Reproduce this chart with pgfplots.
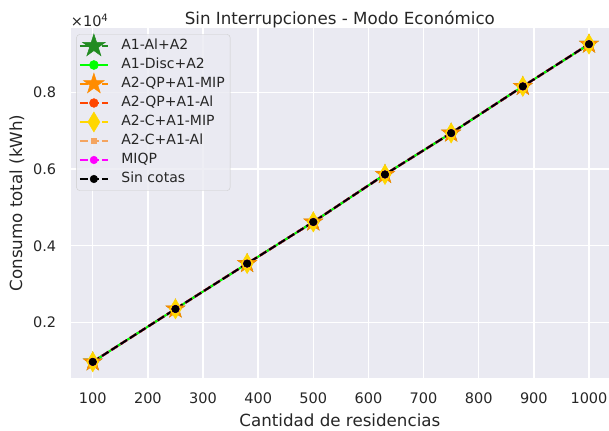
\documentclass[border=0pt]{standalone}
\usepackage{fontspec}
\setmainfont{DejaVu Sans}
\usepackage{pgfplots}
\pgfplotsset{compat=1.18}
\usetikzlibrary{calc}
\definecolor{bgc}{HTML}{EAEAF2}
\definecolor{txt}{HTML}{262626}
\definecolor{cforest}{HTML}{228B22}
\definecolor{clime}{HTML}{00FF00}
\definecolor{cdorange}{HTML}{FF8C00}
\definecolor{cored}{HTML}{FF4500}
\definecolor{cgold}{HTML}{FFD700}
\definecolor{csandy}{HTML}{F4A460}
\definecolor{cmag}{HTML}{FF00FF}

\pgfdeclareplotmark{fstar}{%
 \pgfpathmoveto{\pgfpointpolar{90}{\pgfplotmarksize}}%
 \pgfpathlineto{\pgfpointpolar{126}{0.381966\pgfplotmarksize}}%
 \pgfpathlineto{\pgfpointpolar{162}{\pgfplotmarksize}}%
 \pgfpathlineto{\pgfpointpolar{198}{0.381966\pgfplotmarksize}}%
 \pgfpathlineto{\pgfpointpolar{234}{\pgfplotmarksize}}%
 \pgfpathlineto{\pgfpointpolar{270}{0.381966\pgfplotmarksize}}%
 \pgfpathlineto{\pgfpointpolar{306}{\pgfplotmarksize}}%
 \pgfpathlineto{\pgfpointpolar{342}{0.381966\pgfplotmarksize}}%
 \pgfpathlineto{\pgfpointpolar{18}{\pgfplotmarksize}}%
 \pgfpathlineto{\pgfpointpolar{54}{0.381966\pgfplotmarksize}}%
 \pgfpathclose
 \pgfusepathqfillstroke
}
\pgfdeclareplotmark{tdiamond}{%
 \pgfpathmoveto{\pgfqpoint{0pt}{\pgfplotmarksize}}%
 \pgfpathlineto{\pgfqpoint{0.6\pgfplotmarksize}{0pt}}%
 \pgfpathlineto{\pgfqpoint{0pt}{-\pgfplotmarksize}}%
 \pgfpathlineto{\pgfqpoint{-0.6\pgfplotmarksize}{0pt}}%
 \pgfpathclose
 \pgfusepathqfillstroke
}

\pgfplotstableread{
x y
100 970
250 2350
380 3535
500 4620
630 5860
750 6940
880 8158
1000 9260
}\datatab

\tikzset{
 mpldash/.style={dash pattern=on 7.7bp off 3.3bp},
 mpldashdot/.style={dash pattern=on 13.3bp off 3.3bp on 2.1bp off 3.3bp},
}

\begin{document}
\begin{tikzpicture}
\begin{axis}[
 scale only axis, width=538.3bp, height=349.4bp,
 xmin=60, xmax=1036.3, ymin=557, ymax=9674,
 axis background/.style={fill=bgc},
 axis line style={draw=none},
 grid=major, major grid style={white, line width=1.4bp},
 major tick length=0pt,
 xtick={100,200,...,1000},
 ytick={2000,4000,6000,8000}, yticklabels={0.2,0.4,0.6,0.8},
 scaled ticks=false,
 /pgf/number format/assume math mode=true,
 /pgf/number format/1000 sep={},
 ticklabel style={font=\fontsize{14.5bp}{17bp}\selectfont, text=txt},
 xticklabel shift=12bp,
 yticklabel shift=11bp,
 xlabel={Cantidad de residencias},
 ylabel={Consumo total (kWh)},
 title={Sin Interrupciones - Modo Económico},
 every axis x label/.style={at={(axis description cs:0.5,-0.141)}, anchor=base, font=\fontsize{16.7bp}{20bp}\selectfont, text=txt},
 every axis y label/.style={at={(axis description cs:-0.0901,0.5)}, rotate=90, anchor=base, font=\fontsize{16.7bp}{20bp}\selectfont, text=txt},
 every axis title/.style={at={(axis description cs:0.5,1.0123)}, anchor=base, font=\fontsize{16.7bp}{20bp}\selectfont, text=txt},
 legend image code/.code={%
   \begin{pgfinterruptboundingbox}
   \draw[sharp corners, fill opacity=1, draw opacity=1, mark repeat=2,mark phase=2,#1] plot coordinates {(0bp,0bp) (14bp,0bp) (28bp,0bp)};
   \end{pgfinterruptboundingbox}
   \path[draw=none, fill=none, sharp corners] (0bp,-3bp) rectangle (28bp,3bp);},
 legend cell align=left,
 legend style={at={(axis description cs:0,1)}, anchor=north west, xshift=5.7bp, yshift=-6bp,
   fill=bgc, fill opacity=0.8, text opacity=1, draw=black!20, rounded corners=3bp,
   font=\fontsize{14bp}{17bp}\selectfont, text=txt,
   nodes={inner sep=2bp, text height=10.4bp, text depth=2.6bp, sharp corners}, row sep=2bp,
   /tikz/every odd column/.append style={column sep=11.5bp},
   inner xsep=3.3bp, inner ysep=3bp},
 every axis plot/.append style={line width=2.1bp},
]
\addplot[cforest, mpldashdot, mark=fstar, mark size=9.6bp, mark options={solid, fill=cforest, draw=cforest, line width=0.5bp}, legend image post style={mark size=12bp}] table[x=x,y=y] {\datatab};
\addlegendentry{A1-Al+A2}
\addplot[clime, solid, mark=*, mark size=4.5bp, mark options={solid, fill=clime, draw=clime, line width=0.5bp}] table[x=x,y=y] {\datatab};
\addlegendentry{A1-Disc+A2}
\addplot[cdorange, mpldash, mark=fstar, mark size=10bp, mark options={solid, fill=cdorange, draw=cdorange, line width=0.5bp}, legend image post style={mark size=10.8bp}] table[x=x,y=y] {\datatab};
\addlegendentry{A2-QP+A1-MIP}
\addplot[cored, mpldash, mark=*, mark size=4.4bp, mark options={solid, fill=cored, draw=cored, line width=0.5bp}] table[x=x,y=y] {\datatab};
\addlegendentry{A2-QP+A1-Al}
\addplot[cgold, mpldash, mark=tdiamond, mark size=10bp, mark options={solid, fill=cgold, draw=cgold, line width=0.5bp}] table[x=x,y=y] {\datatab};
\addlegendentry{A2-C+A1-MIP}
\addplot[csandy, mpldash, mark=square*, mark size=2.4bp, mark options={solid, fill=csandy, draw=csandy, line width=0.5bp}] table[x=x,y=y] {\datatab};
\addlegendentry{A2-C+A1-Al}
\addplot[cmag, mpldash, mark=*, mark size=3.8bp, mark options={solid, fill=cmag, draw=cmag, line width=0.5bp}] table[x=x,y=y] {\datatab};
\addlegendentry{MIQP}
\addplot[black, mpldash, mark=*, mark size=3.8bp, mark options={solid, fill=black, draw=black, line width=0.5bp}] table[x=x,y=y] {\datatab};
\addlegendentry{Sin cotas}
\coordinate (bl) at (rel axis cs:0,0);
\coordinate (tr) at (rel axis cs:1,1);
\end{axis}
\node[anchor=base west, inner sep=0pt, font=\fontsize{14.5bp}{17bp}\selectfont, text=txt] at ($(bl|-tr)+(0bp,1.5bp)$) {×10\textsuperscript{4}};
\pgfresetboundingbox
\path[use as bounding box] ($(bl)+(-70.7bp,-53.3bp)$) rectangle ($(tr)+(0bp,28.3bp)$);
\end{tikzpicture}
\end{document}
